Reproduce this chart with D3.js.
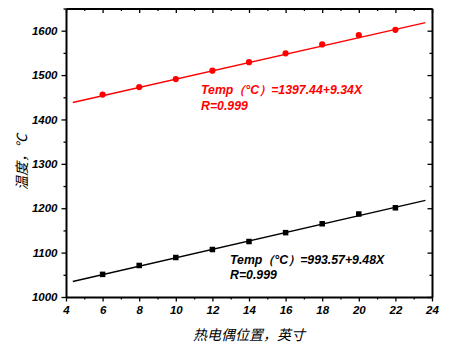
<!DOCTYPE html>
<html>
<head>
<meta charset="utf-8">
<script src="https://cdn.jsdelivr.net/npm/d3@7"></script>
<style>
  html, body { margin: 0; padding: 0; background: #fff; }
  svg { display: block; }
  .num { font-family: "Liberation Sans", Arial, sans-serif; font-weight: bold; font-style: italic; font-size: 11.5px; }
  .eq { font-family: "Liberation Sans", Arial, sans-serif; font-weight: bold; font-style: italic; font-size: 12.3px; }
  .cjk { font-family: "Noto Sans CJK SC", sans-serif; font-style: italic; font-size: 14px; }
</style>
</head>
<body>
<svg id="chart" width="450" height="350"></svg>
<script>
// Thermocouple position (inches)
const positions = [6, 8, 10, 12, 14, 16, 18, 20, 22];
// Measured temperatures, °C
const upperTemps = [1456, 1473, 1491, 1510, 1529, 1549, 1569, 1590, 1602];
const lowerTemps = [1051, 1071, 1089, 1107, 1125, 1145, 1165, 1187, 1201];
// Linear fits: Temp = a + b·X
const upperFit = { a: 1397.44, b: 9.34, r: 0.999 };
const lowerFit = { a: 993.57, b: 9.48, r: 0.999 };
const fitRange = [4.37, 23.64];
// Axis ticks
const xMajor = [4, 6, 8, 10, 12, 14, 16, 18, 20, 22, 24];
const xMinor = [5, 7, 9, 11, 13, 15, 17, 19, 21, 23];
const yMajor = [1000, 1100, 1200, 1300, 1400, 1500, 1600];
const yMinor = [1050, 1150, 1250, 1350, 1450, 1550, 1650];
const xTitle = "热电偶位置，英寸";
const yTitle = "温度，℃";

const svg = d3.select("#chart");
const L = 66, R = 432, T = 8.5, B = 297;

const x = d3.scaleLinear().domain([4, 24]).range([L, R]);
const y = d3.scaleLinear().domain([1000, 1650]).range([B, T]);

function styleAxis(g) {
  g.select(".domain").attr("stroke", "#000").attr("stroke-width", 2);
  g.selectAll(".tick line").attr("stroke", "#000").attr("stroke-width", 1.3);
}

// Bottom axis (outward ticks with labels)
svg.append("g").attr("transform", `translate(0,${B})`)
  .call(d3.axisBottom(x).tickValues(xMajor).tickSize(4.5).tickSizeOuter(0).tickPadding(4).tickFormat(d3.format("d")))
  .call(styleAxis)
  .call(g => g.selectAll("text").attr("class", "num").attr("fill", "#000").attr("font-size", null).attr("font-family", null));
svg.append("g").attr("transform", `translate(0,${B})`)
  .call(d3.axisBottom(x).tickValues(xMinor).tickSize(2.5).tickFormat(""))
  .call(styleAxis).call(g => g.select(".domain").remove());

// Left axis
svg.append("g").attr("transform", `translate(${L},0)`)
  .call(d3.axisLeft(y).tickValues(yMajor).tickSize(4.5).tickSizeOuter(0).tickPadding(4).tickFormat(d3.format("d")))
  .call(styleAxis)
  .call(g => g.selectAll("text").attr("class", "num").attr("fill", "#000").attr("font-size", null).attr("font-family", null));
svg.append("g").attr("transform", `translate(${L},0)`)
  .call(d3.axisLeft(y).tickValues(yMinor).tickSize(2.5).tickFormat(""))
  .call(styleAxis).call(g => g.select(".domain").remove());

// Top and right mirror axes (inward ticks, no labels)
svg.append("g").attr("transform", `translate(0,${T})`)
  .call(d3.axisTop(x).tickValues(xMajor).tickSize(-4.5).tickSizeOuter(0).tickFormat(""))
  .call(styleAxis);
svg.append("g").attr("transform", `translate(0,${T})`)
  .call(d3.axisTop(x).tickValues(xMinor).tickSize(-2.5).tickFormat(""))
  .call(styleAxis).call(g => g.select(".domain").remove());
svg.append("g").attr("transform", `translate(${R},0)`)
  .call(d3.axisRight(y).tickValues(yMajor).tickSize(-4.5).tickSizeOuter(0).tickFormat(""))
  .call(styleAxis);
svg.append("g").attr("transform", `translate(${R},0)`)
  .call(d3.axisRight(y).tickValues(yMinor).tickSize(-2.5).tickFormat(""))
  .call(styleAxis).call(g => g.select(".domain").remove());

// Fit lines
const line = d3.line().x(d => x(d[0])).y(d => y(d[1]));
function fitPoints(f) { return fitRange.map(v => [v, f.a + f.b * v]); }
svg.append("path").datum(fitPoints(upperFit)).attr("d", line)
  .attr("fill", "none").attr("stroke", "#ff0000").attr("stroke-width", 1.4);
svg.append("path").datum(fitPoints(lowerFit)).attr("d", line)
  .attr("fill", "none").attr("stroke", "#000").attr("stroke-width", 1.4);

// Markers
svg.append("g").selectAll("circle").data(positions)
  .join("circle")
  .attr("cx", (d) => x(d)).attr("cy", (d, i) => y(upperTemps[i]))
  .attr("r", 3.1).attr("fill", "#ff0000");
const sq = 5.5;
svg.append("g").selectAll("rect").data(positions)
  .join("rect")
  .attr("x", d => x(d) - sq / 2).attr("y", (d, i) => y(lowerTemps[i]) - sq / 2)
  .attr("width", sq).attr("height", sq).attr("fill", "#000");

// Fit equations
function equation(f, px, py, color) {
  const g = svg.append("g").attr("fill", color);
  g.append("text").attr("class", "eq").attr("x", px).attr("y", py)
    .text(`Temp（°C）=${f.a.toFixed(2)}+${f.b.toFixed(2)}X`);
  g.append("text").attr("class", "eq").attr("x", px).attr("y", py + 15.5)
    .text(`R=${f.r.toFixed(3)}`);
}
equation(upperFit, 201, 94, "#ff0000");
equation(lowerFit, 230, 263.5, "#000");

// Axis titles
svg.append("text").attr("class", "cjk").attr("x", (L + R) / 2).attr("y", 340)
  .attr("text-anchor", "middle").text(xTitle);
svg.append("text").attr("class", "cjk")
  .attr("transform", "translate(21,162) rotate(-90)")
  .attr("text-anchor", "middle").attr("dominant-baseline", "central").text(yTitle);
</script>
</body>
</html>
